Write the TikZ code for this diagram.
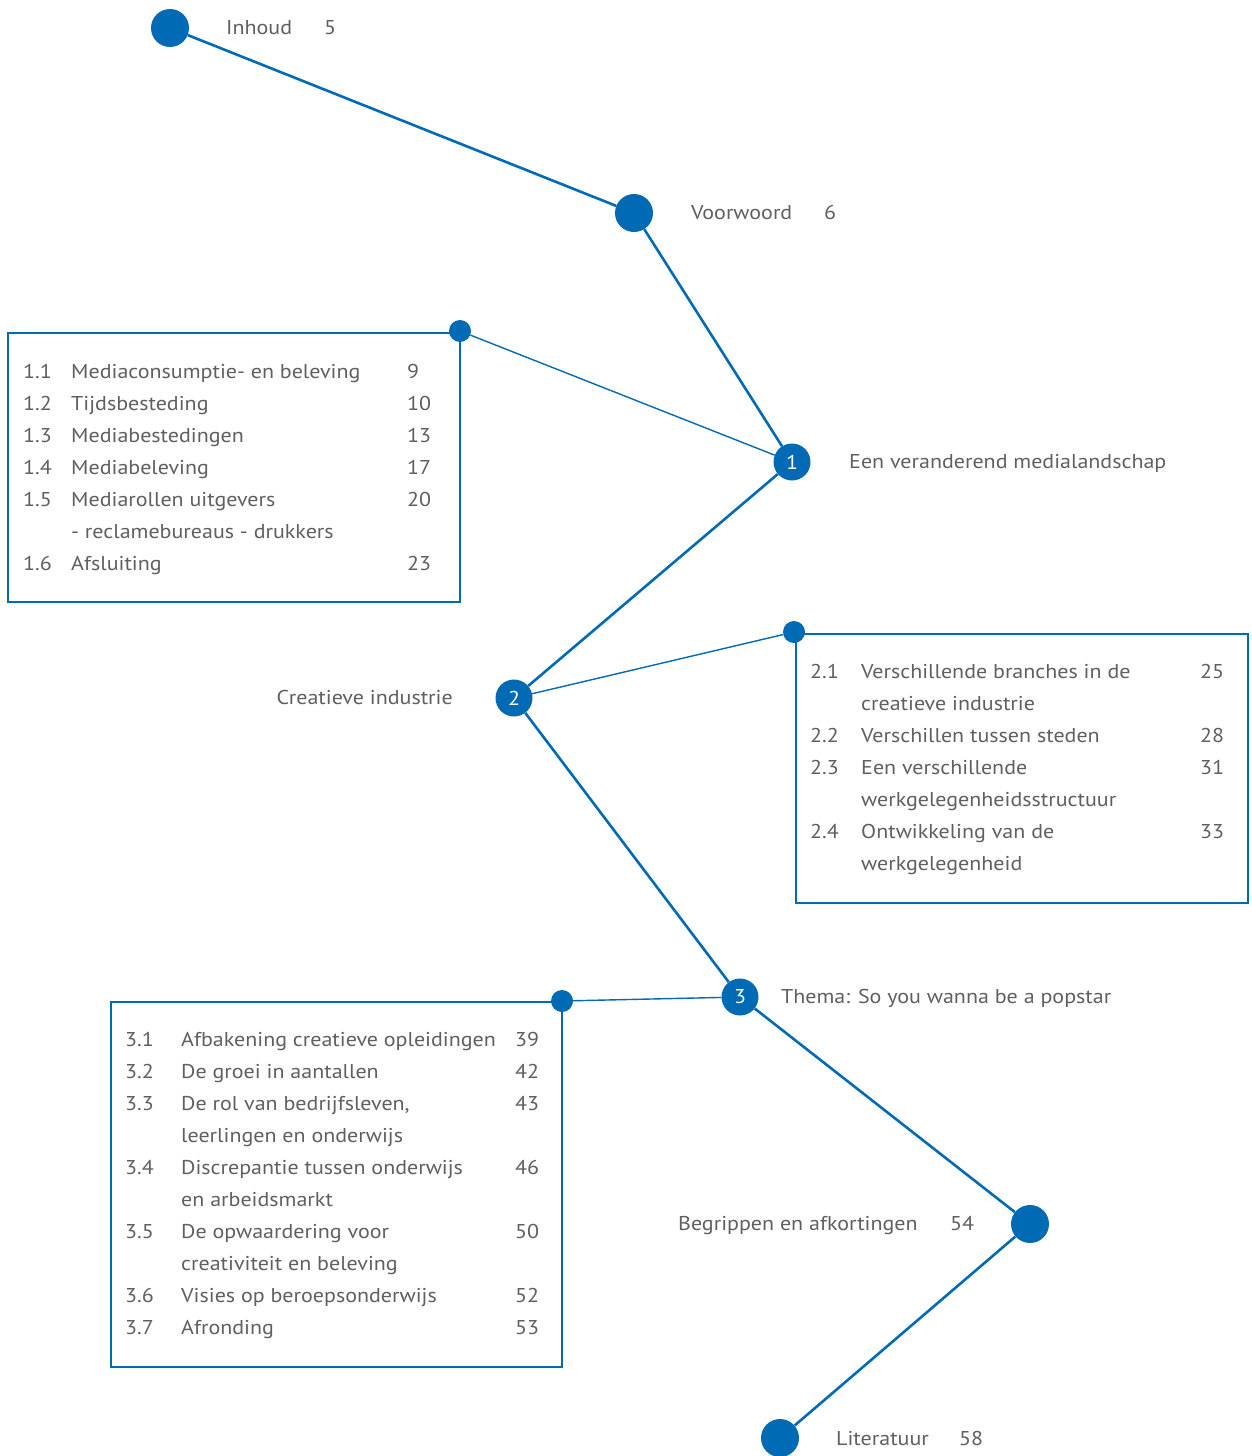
\documentclass[tikz,border=0pt]{standalone}
\usepackage{fontspec}
\setmainfont{PT Sans}[FakeStretch=1.1]
\definecolor{tocblue}{RGB}{0,106,180}
\definecolor{tocgray}{RGB}{95,95,95}
\begin{document}
\begin{tikzpicture}[x=1pt,y=-1pt,
  bigdot/.style={circle,fill=tocblue,minimum size=38pt,inner sep=0},
  numdot/.style={circle,fill=tocblue,minimum size=37pt,inner sep=0,text=white,font=\fontsize{20}{24}\selectfont},
  smalldot/.style={circle,fill=tocblue,minimum size=22pt,inner sep=0},
  mainlink/.style={draw=tocblue,line width=2.6pt},
  sublink/.style={draw=tocblue,line width=1.4pt},
  tocbox/.style={draw=tocblue,line width=1.5pt,anchor=north west,inner sep=0},
  txt/.style={anchor=base west,inner sep=0,text=tocgray,font=\fontsize{20}{24}\selectfont},
  txtr/.style={anchor=base east,inner sep=0,text=tocgray,font=\fontsize{20}{24}\selectfont}]
\useasboundingbox (0,0) rectangle (1251,1456);

% boxes
\node[tocbox,minimum width=452pt,minimum height=269pt] (box1) at (7,332) {};
\node[tocbox,minimum width=452pt,minimum height=269pt] (box2) at (795,633) {};
\node[tocbox,minimum width=451pt,minimum height=365pt] (box3) at (110,1001) {};

% main circles
\node[bigdot] (inhoud) at (170,28) {};
\node[bigdot] (voorwoord) at (634,213) {};
\node[numdot] (c1) at (792,462) {1};
\node[numdot] (c2) at (514,698) {2};
\node[numdot] (c3) at (740,997) {3};
\node[bigdot] (begrippen) at (1030,1224) {};
\node[bigdot] (literatuur) at (780,1438) {};

% small dots
\node[smalldot] (d1) at (460,331) {};
\node[smalldot] (d2) at (794,632) {};
\node[smalldot] (d3) at (562,1001) {};

% connectors
\draw[mainlink] (inhoud) -- (voorwoord);
\draw[mainlink] (voorwoord) -- (c1);
\draw[mainlink] (c1) -- (c2);
\draw[mainlink] (c2) -- (c3);
\draw[mainlink] (c3) -- (begrippen);
\draw[mainlink] (begrippen) -- (literatuur);
\draw[sublink] (d1) -- (c1);
\draw[sublink] (c2) -- (d2);
\draw[sublink] (c3) -- (d3);

% main labels
\node[txt] (tinhoud) at (226,34) {Inhoud};
\node[txt] (pinhoud) at (324,34) {5};
\node[txt] (tvoor) at (691,219) {Voorwoord};
\node[txt] (pvoor) at (824,219) {6};
\node[txt] (tc1) at (849,468) {Een veranderend medialandschap};
\node[txtr] (tc2) at (453,704) {Creatieve industrie};
\node[txt] (tc3) at (781,1003) {Thema: So you wanna be a popstar};
\node[txt] (tbeg) at (678,1230) {Begrippen en afkortingen};
\node[txt] (pbeg) at (950,1230) {54};
\node[txt] (tlit) at (836,1445) {Literatuur};
\node[txt] (plit) at (959,1445) {58};

% box 1
\node[txt] (a1n) at (23,378) {1.1};
\node[txt] (a1t) at (71,378) {Mediaconsumptie- en beleving};
\node[txt] (a1p) at (407,378) {9};
\node[txt] (a2n) at (23,410) {1.2};
\node[txt] (a2t) at (71,410) {Tijdsbesteding};
\node[txt] (a2p) at (407,410) {10};
\node[txt] (a3n) at (23,442) {1.3};
\node[txt] (a3t) at (71,442) {Mediabestedingen};
\node[txt] (a3p) at (407,442) {13};
\node[txt] (a4n) at (23,474) {1.4};
\node[txt] (a4t) at (71,474) {Mediabeleving};
\node[txt] (a4p) at (407,474) {17};
\node[txt] (a5n) at (23,506) {1.5};
\node[txt] (a5t) at (71,506) {Mediarollen uitgevers};
\node[txt] (a5p) at (407,506) {20};
\node[txt] (a5c) at (71,538) {- reclamebureaus - drukkers};
\node[txt] (a6n) at (23,570) {1.6};
\node[txt] (a6t) at (71,570) {Afsluiting};
\node[txt] (a6p) at (407,570) {23};

% box 2
\node[txt] (b1n) at (810,678) {2.1};
\node[txt] (b1t) at (861,678) {Verschillende branches in de};
\node[txt] (b1p) at (1200,678) {25};
\node[txt] (b1c) at (861,710) {creatieve industrie};
\node[txt] (b2n) at (810,742) {2.2};
\node[txt] (b2t) at (861,742) {Verschillen tussen steden};
\node[txt] (b2p) at (1200,742) {28};
\node[txt] (b3n) at (810,774) {2.3};
\node[txt] (b3t) at (861,774) {Een verschillende};
\node[txt] (b3p) at (1200,774) {31};
\node[txt] (b3c) at (861,806) {werkgelegenheidsstructuur};
\node[txt] (b4n) at (810,838) {2.4};
\node[txt] (b4t) at (861,838) {Ontwikkeling van de};
\node[txt] (b4p) at (1200,838) {33};
\node[txt] (b4c) at (861,870) {werkgelegenheid};

% box 3
\node[txt] (c1n) at (125,1046) {3.1};
\node[txt] (c1t) at (181,1046) {Afbakening creatieve opleidingen};
\node[txt] (c1p) at (515,1046) {39};
\node[txt] (c2n) at (125,1078) {3.2};
\node[txt] (c2t) at (181,1078) {De groei in aantallen};
\node[txt] (c2p) at (515,1078) {42};
\node[txt] (c3n) at (125,1110) {3.3};
\node[txt] (c3t) at (181,1110) {De rol van bedrijfsleven,};
\node[txt] (c3p) at (515,1110) {43};
\node[txt] (c3c) at (181,1142) {leerlingen en onderwijs};
\node[txt] (c4n) at (125,1174) {3.4};
\node[txt] (c4t) at (181,1174) {Discrepantie tussen onderwijs};
\node[txt] (c4p) at (515,1174) {46};
\node[txt] (c4c) at (181,1206) {en arbeidsmarkt};
\node[txt] (c5n) at (125,1238) {3.5};
\node[txt] (c5t) at (181,1238) {De opwaardering voor};
\node[txt] (c5p) at (515,1238) {50};
\node[txt] (c5c) at (181,1270) {creativiteit en beleving};
\node[txt] (c6n) at (125,1302) {3.6};
\node[txt] (c6t) at (181,1302) {Visies op beroepsonderwijs};
\node[txt] (c6p) at (515,1302) {52};
\node[txt] (c7n) at (125,1334) {3.7};
\node[txt] (c7t) at (181,1334) {Afronding};
\node[txt] (c7p) at (515,1334) {53};
\end{tikzpicture}
\end{document}
